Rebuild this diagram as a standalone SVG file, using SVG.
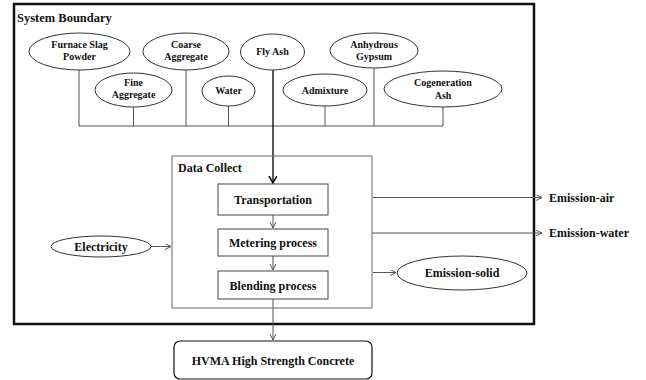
<svg xmlns="http://www.w3.org/2000/svg" width="646" height="380" viewBox="0 0 646 380">
<style>
text{font-family:"Liberation Serif","Times New Roman",serif;font-weight:bold;fill:#111}
.e{fill:#fff;stroke:#333;stroke-width:1}
.s{font-size:10px}
.m{font-size:12px}
.c{text-anchor:middle}
.ln{fill:none;stroke:#555;stroke-width:1}
.box{fill:#fff;stroke:#444;stroke-width:1}
</style>
<defs>
<marker id="a" markerWidth="8" markerHeight="8" refX="6" refY="3" orient="auto" markerUnits="userSpaceOnUse">
<path d="M0,0 L6,3 L0,6" fill="none" stroke="#555" stroke-width="1"/>
</marker>
<marker id="ab" markerWidth="10" markerHeight="10" refX="7" refY="4" orient="auto" markerUnits="userSpaceOnUse">
<path d="M0,0 L7,4 L0,8" fill="none" stroke="#111" stroke-width="1.6"/>
</marker>
</defs>
<rect width="646" height="380" fill="#fff"/>
<g id="boundary">
<rect x="14" y="4" width="520" height="320" fill="none" stroke="#111" stroke-width="2.5"/>
<text x="17" y="22" style="font-size:12.5px">System Boundary</text>
</g>
<g id="connectors">
<path class="ln" d="M79,70 V126 M133.5,107 V126 M186,70 V126 M228.5,106 V126 M325,106 V126 M374,68 V126 M443,107 V126 M79,126 H443"/>
<path d="M273,70 V183" fill="none" stroke="#111" stroke-width="1.4" marker-end="url(#ab)"/>
<path class="ln" d="M273,215 V228" marker-end="url(#a)"/>
<path class="ln" d="M273,256 V270" marker-end="url(#a)"/>
<path class="ln" d="M273,299 V340" marker-end="url(#a)"/>
<path class="ln" d="M151,246.5 H171" marker-end="url(#a)"/>
<path class="ln" d="M373,197.5 H542" marker-end="url(#a)"/>
<path class="ln" d="M372,233 H542" marker-end="url(#a)"/>
<path class="ln" d="M373,272.5 H396" marker-end="url(#a)"/>
</g>
<g id="furnace"><ellipse class="e" cx="79.5" cy="51.5" rx="50.5" ry="18.5"/><text class="s c" x="79.5" y="48">Furnace Slag</text><text class="s c" x="79.5" y="60">Powder</text></g>
<g id="coarse"><ellipse class="e" cx="186" cy="51.5" rx="43" ry="18.5"/><text class="s c" x="186" y="48">Coarse</text><text class="s c" x="186" y="60">Aggregate</text></g>
<g id="flyash"><ellipse class="e" cx="272.5" cy="52" rx="32" ry="18"/><text class="s c" x="272.5" y="55">Fly Ash</text></g>
<g id="fine"><ellipse class="e" cx="133.5" cy="90" rx="38.5" ry="17"/><text class="s c" x="133.5" y="86">Fine</text><text class="s c" x="133.5" y="98">Aggregate</text></g>
<g id="water"><ellipse class="e" cx="228.5" cy="91" rx="26.5" ry="15"/><text class="s c" x="228.5" y="94">Water</text></g>
<g id="admixture"><ellipse class="e" cx="325" cy="90" rx="42" ry="16"/><text class="s c" x="325" y="93.5">Admixture</text></g>
<g id="gypsum"><ellipse class="e" cx="374" cy="50.5" rx="44" ry="17.5"/><text class="s c" x="374" y="48">Anhydrous</text><text class="s c" x="374" y="60">Gypsum</text></g>
<g id="cogen"><ellipse class="e" cx="443" cy="89" rx="59" ry="18"/><text class="s c" x="443" y="86">Cogeneration</text><text class="s c" x="443" y="99">Ash</text></g>
<g id="datacollect">
<rect x="172" y="156" width="200" height="152" fill="none" stroke="#666" stroke-width="1"/>
<text class="m" x="178" y="172">Data Collect</text>
</g>
<g id="transportation"><rect class="box" x="218" y="184" width="110" height="31"/><text class="m c" x="273" y="204">Transportation</text></g>
<g id="metering"><rect class="box" x="218" y="229" width="110" height="27"/><text class="m c" x="273" y="247">Metering process</text></g>
<g id="blending"><rect class="box" x="218" y="271" width="110" height="28"/><text class="m c" x="273" y="290">Blending process</text></g>
<g id="electricity"><ellipse class="e" cx="101" cy="246.5" rx="50" ry="10.5"/><text class="m c" x="101" y="251">Electricity</text></g>
<g id="emission-air"><text class="m" x="549" y="202">Emission-air</text></g>
<g id="emission-water"><text class="m" x="549" y="237">Emission-water</text></g>
<g id="emission-solid"><ellipse class="e" cx="462" cy="273" rx="65" ry="17"/><text class="m c" x="462" y="277">Emission-solid</text></g>
<g id="hvma"><rect x="174" y="341" width="198" height="38" rx="6" fill="#fff" stroke="#111" stroke-width="1.2"/><text class="m c" x="273" y="365">HVMA High Strength Concrete</text></g>
</svg>
